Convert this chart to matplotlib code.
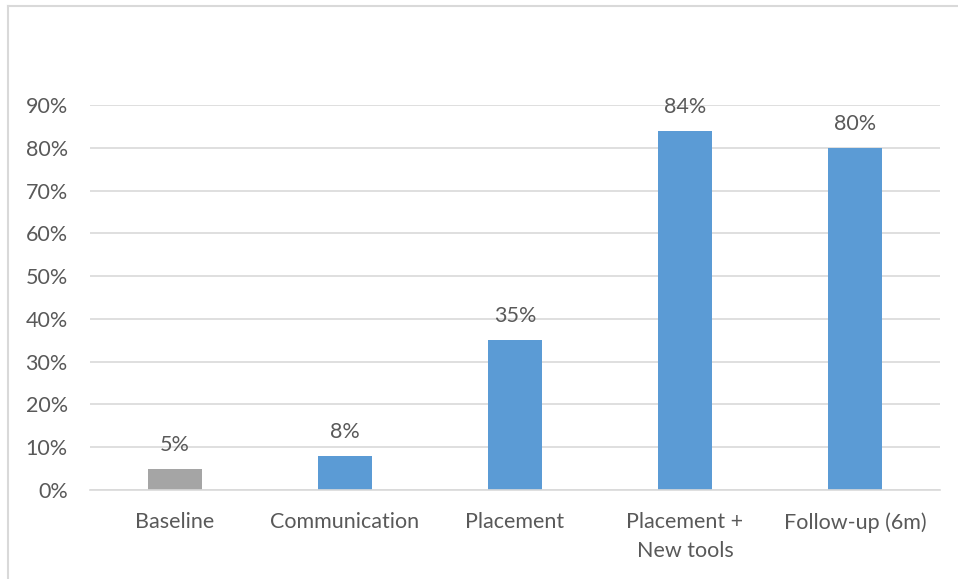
import matplotlib.pyplot as plt
from matplotlib.lines import Line2D
import numpy as np

categories = ["Baseline", "Communication", "Placement", "Placement +\nNew tools", "Follow-up (6m)"]
values = [0.05, 0.08, 0.35, 0.84, 0.80]
bar_colors = ["#A5A5A5", "#5B9BD5", "#5B9BD5", "#5B9BD5", "#5B9BD5"]
yticks = np.arange(0, 0.91, 0.1)

plt.rcParams['font.family'] = ['Lato', 'DejaVu Sans']
text_color = "#595959"
grid_color = "#D9D9D9"
fs = 15.5

fig = plt.figure(figsize=(9.58, 5.79), dpi=100)
ax = fig.add_axes([90/958, 1 - 490/579, 850/958, 385/579])

x = np.arange(len(categories))
bars = ax.bar(x, values, width=0.32, color=bar_colors, zorder=3)

for xi, v in zip(x, values):
    ax.annotate(f"{v*100:.0f}%", (xi, v), xytext=(0, 10), textcoords="offset points",
                ha="center", va="bottom", fontsize=fs, color=text_color)

ax.set_xlim(-0.5, len(categories) - 0.5)
ax.set_ylim(0, 0.9)
ax.set_yticks(yticks)
ax.set_yticklabels([f"{t*100:.0f}%" for t in yticks])
ax.set_xticks(x)
ax.set_xticklabels(categories, linespacing=1.55)
ax.tick_params(axis="y", length=0, pad=16, labelsize=fs, labelcolor=text_color)
ax.tick_params(axis="x", length=0, pad=16, labelsize=fs, labelcolor=text_color)
ax.grid(axis="y", color=grid_color, linewidth=1.2, zorder=0)
for side in ["left", "right", "top"]:
    ax.spines[side].set_visible(False)
ax.spines["bottom"].set_color(grid_color)
ax.spines["bottom"].set_linewidth(1.2)
ax.spines["bottom"].set_zorder(4)

# chart frame, only the top and left edges fall inside the canvas
fig.add_artist(Line2D([7.5/958, 7.5/958], [0, 1 - 5.5/579], color=grid_color, linewidth=1.5))
fig.add_artist(Line2D([7.5/958, 1], [1 - 5.5/579, 1 - 5.5/579], color=grid_color, linewidth=1.5))

fig.savefig("out.png", dpi=100)
